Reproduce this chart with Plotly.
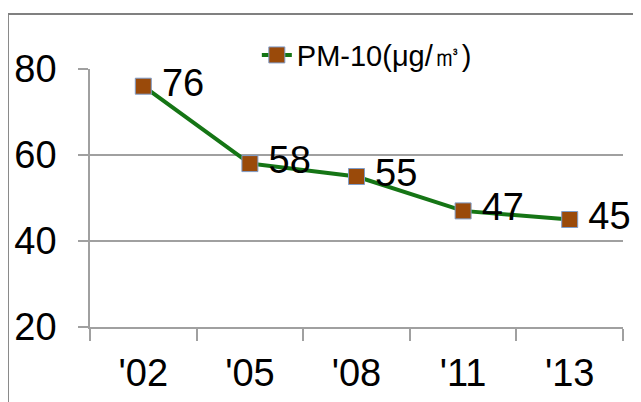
import plotly.graph_objects as go

years = ["'02", "'05", "'08", "'11", "'13"]
pm10 = [76, 58, 55, 47, 45]
series_name = "PM-10(\u03bcg/\u33a5)"
y_ticks = [20, 40, 60, 80]

FONT = "Liberation Sans, Arial, sans-serif"

fig = go.Figure()
fig.add_trace(go.Scatter(
    x=years, y=pm10, name=series_name,
    mode="lines+markers+text",
    text=["\u2009" + str(v) for v in pm10],
    textposition="middle right",
    textfont=dict(family=FONT, size=38, color="#000000"),
    line=dict(color="#157515", width=4),
    marker=dict(symbol="square", size=16, color="#9a4a0a",
                line=dict(color="#7f9cc8", width=1)),
    cliponaxis=False,
))

fig.update_layout(
    width=633, height=394,
    margin=dict(l=82, r=18, t=61, b=75, autoexpand=False),
    paper_bgcolor="white", plot_bgcolor="white",
    showlegend=True,
    legend=dict(orientation="h", x=0.313, xanchor="left", y=1.054, yanchor="middle",
                font=dict(family=FONT, size=29, color="#000000"),
                bgcolor="rgba(0,0,0,0)", itemwidth=30),
    xaxis=dict(type="category", range=[-0.5, 4.5], tickson="boundaries", showgrid=False,
               automargin=False,
               showline=True, linecolor="#a0a0a0", linewidth=1.5,
               ticks="outside", ticklen=12, tickcolor="#a0a0a0", tickwidth=1.5,
               tickfont=dict(family=FONT, size=38, color="#000000"),
               ticklabelstandoff=12, zeroline=False),
    yaxis=dict(range=[20, 80], tickvals=y_ticks, showgrid=True, automargin=False,
               gridcolor="#a0a0a0", gridwidth=1.5,
               showline=True, linecolor="#a0a0a0", linewidth=1.5,
               ticks="outside", ticklen=10, tickcolor="#a0a0a0", tickwidth=1.5,
               tickfont=dict(family=FONT, size=38, color="#000000"),
               ticklabelstandoff=14, zeroline=False),
    shapes=[
        dict(type="line", xref="paper", yref="paper", x0=-0.154, x1=1.1, y0=1.213, y1=1.213,
             line=dict(color="#808080", width=2)),
        dict(type="line", xref="paper", yref="paper", x0=-0.154, x1=-0.154, y0=1.213, y1=-0.4,
             line=dict(color="#808080", width=2)),
    ],
)

fig.write_html("out.html")
